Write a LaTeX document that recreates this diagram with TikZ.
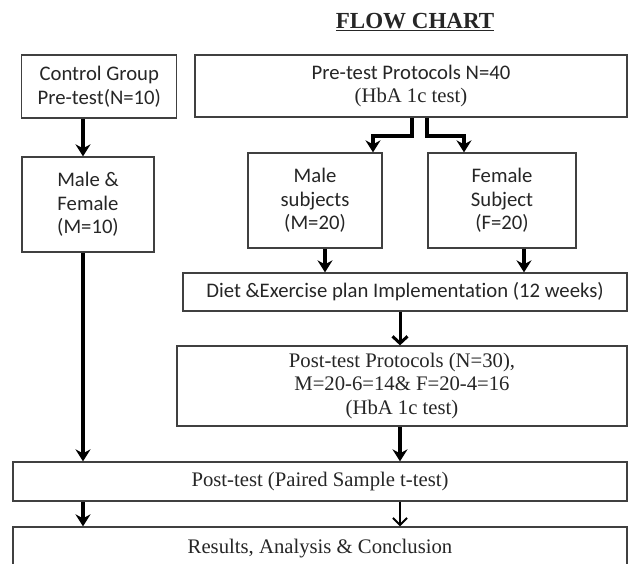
\documentclass[tikz,border=0pt]{standalone}
\usepackage{fontspec}
\setmainfont{Liberation Serif}
\newfontfamily\calfont[Ligatures=NoCommon]{Carlito}
\usetikzlibrary{arrows.meta,calc}
\begin{document}
\begin{tikzpicture}[x=1pt,y=-1pt,
  box/.style={draw=black!75,line width=1.3pt,inner sep=0pt,align=center,text=black!85,font=\fontsize{20.7}{23.5}\selectfont},
  sansbox/.style={box,font=\calfont\fontsize{20.7}{23.5}\selectfont},
  serifbox/.style={box},
  bigarrow/.style={line width=3.4pt,-{Stealth[length=12pt,width=15pt,inset=4pt]}},
  midarrow/.style={line width=3pt,-{Straight Barb[length=7pt,width=15pt,line width=3pt]}},
  thinarrow/.style={line width=2pt,-{Straight Barb[length=7pt,width=14pt,line width=2pt]}}]
\useasboundingbox (0,0) rectangle (629,563);
\fill[white] (0,0) rectangle (629,563);
\clip (0,0) rectangle (629,563);

\node[font=\bfseries\fontsize{23}{25}\selectfont,text=black!85] (title) at (415,22) {\underline{FLOW CHART}};

\node[sansbox,minimum width=155pt,minimum height=63pt] (ctrl) at (99.3,86.5) {Control Group\\Pre-test(N=10)};
\node[box,minimum width=432pt,minimum height=62pt] (pre) at (411,86)
  {{\calfont Pre-test Protocols N=40}\\(HbA 1c test)};
\node[sansbox,minimum width=132pt,minimum height=95pt] (mf) at (88,204.5) {Male \&\\Female\\(M=10)};
\node[sansbox,minimum width=134pt,minimum height=95pt] (male) at (315,200.5) {Male\\subjects\\(M=20)};
\node[sansbox,minimum width=148pt,minimum height=95pt] (female) at (502,200.5) {Female\\Subject\\(F=20)};
\node[sansbox,minimum width=444pt,minimum height=38pt] (diet) at (405,292) {Diet \&Exercise plan Implementation (12 weeks)};
\node[serifbox,minimum width=450pt,minimum height=80pt] (post) at (402,386)
  {Post-test Protocols (N=30),\\M=20-6=14\& F=20-4=16\\(HbA 1c test)};
\node[serifbox,minimum width=614pt,minimum height=39pt] (ptest) at (320,481.5) {Post-test (Paired Sample t-test)};
\node[serifbox,minimum width=614pt,minimum height=44pt] (res) at (320,549) {Results, Analysis \& Conclusion};

\coordinate (cx) at (83,0);
\coordinate (mx) at (325,0);
\coordinate (fx) at (524,0);
\coordinate (ax) at (400,0);
\coordinate (b1) at (412,136);
\coordinate (b2) at (427,136);
\coordinate (l1) at (373,136);
\coordinate (r1) at (464,136);

\draw[bigarrow] (ctrl.south -| cx) -- (mf.north -| cx);
\draw[bigarrow] (mf.south -| cx) -- (ptest.north -| cx);
\draw[bigarrow] (ptest.south -| cx) -- (res.north -| cx);
\draw[bigarrow,line join=miter] (pre.south -| b1) -- (b1) -- (l1) -- (male.north -| l1);
\draw[bigarrow,line join=miter] (pre.south -| b2) -- (b2) -- (r1) -- (female.north -| r1);
\draw[bigarrow] (male.south -| mx) -- (diet.north -| mx);
\draw[bigarrow] (female.south -| fx) -- (diet.north -| fx);
\draw[midarrow] (diet.south -| ax) -- (post.north -| ax);
\draw[bigarrow] (post.south -| ax) -- (ptest.north -| ax);
\draw[thinarrow] (ptest.south -| ax) -- (res.north -| ax);
\end{tikzpicture}
\end{document}
